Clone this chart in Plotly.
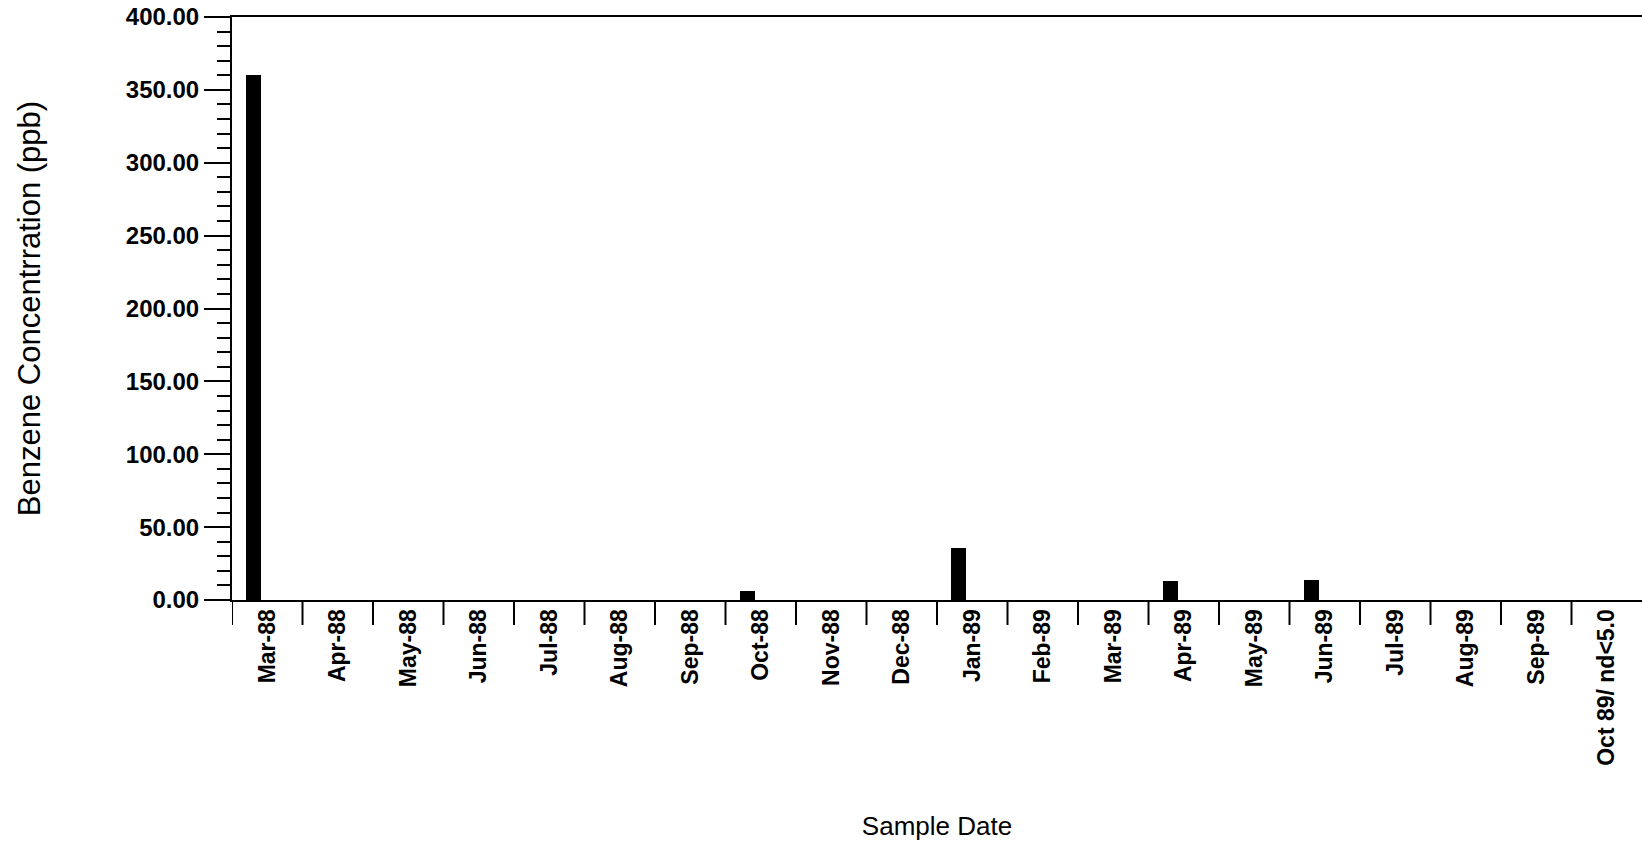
import plotly.graph_objects as go

# Sample dates (categories) and benzene concentrations in ppb
sample_dates = [
    "Mar-88", "Apr-88", "May-88", "Jun-88", "Jul-88", "Aug-88", "Sep-88",
    "Oct-88", "Nov-88", "Dec-88", "Jan-89", "Feb-89", "Mar-89", "Apr-89",
    "May-89", "Jun-89", "Jul-89", "Aug-89", "Sep-89", "Oct 89/ nd<5.0",
]
benzene_ppb = [360, 0, 0, 0, 0, 0, 0, 6, 0, 0, 36, 0, 0, 13, 0, 14, 0, 0, 0, 0]

y_ticks = [0, 50, 100, 150, 200, 250, 300, 350, 400]

FONT = "Liberation Sans, Arial, Helvetica, sans-serif"

fig = go.Figure(
    go.Bar(
        x=list(range(len(sample_dates))),
        y=benzene_ppb,
        width=0.213,
        offset=-0.30,
        marker=dict(color="black", line=dict(width=0)),
        showlegend=False,
    )
)

fig.update_layout(
    width=1642,
    height=841,
    margin=dict(l=232, r=0, t=17, b=241),
    paper_bgcolor="white",
    plot_bgcolor="white",
    font=dict(family=FONT, color="black"),
    bargap=0,
)

fig.update_xaxes(
    type="linear",
    range=[-0.5, 19.5],
    tickmode="array",
    tickvals=list(range(len(sample_dates))),
    ticktext=sample_dates,
    tickangle=-90,
    tickfont=dict(family=FONT, size=23, weight="bold", color="black"),
    ticks="",
    showline=True,
    linecolor="black",
    linewidth=2,
    mirror=True,
    showgrid=False,
    zeroline=False,
    ticklabelstandoff=-2,
    title=dict(text="Sample Date", font=dict(family=FONT, size=26, color="black"), standoff=58),
    automargin=False,
)

# Boundary ticks below the x axis between each sample date
for i in range(len(sample_dates)):
    fig.add_shape(
        type="line",
        xref="x", yref="paper",
        x0=i - 0.5, x1=i - 0.5,
        y0=0, y1=-25 / 583,
        line=dict(color="black", width=2),
    )

fig.update_yaxes(
    range=[0, 400],
    tickmode="array",
    tickvals=y_ticks,
    tickformat=".2f",
    tickfont=dict(family=FONT, size=24, weight="bold", color="black"),
    ticks="outside",
    ticklen=26,
    tickwidth=2,
    tickcolor="black",
    minor=dict(dtick=10, ticks="outside", ticklen=13, tickwidth=2, tickcolor="black", showgrid=False),
    showline=True,
    linecolor="black",
    linewidth=2,
    showgrid=False,
    zeroline=False,
    title=dict(text="Benzene Concentrration (ppb)", font=dict(family=FONT, size=31, color="black"), standoff=76),
    automargin=False,
)

fig.write_html("out.html")
